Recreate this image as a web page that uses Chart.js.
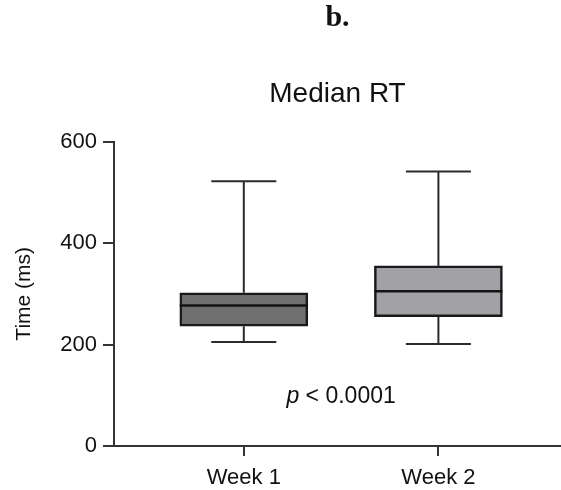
<!DOCTYPE html>
<html>
<head>
<meta charset="utf-8">
<script src="https://cdn.jsdelivr.net/npm/chart.js@4/dist/chart.umd.min.js"></script>
<style>
  html, body { margin: 0; padding: 0; background: #ffffff; }
  #wrap { width: 561px; height: 490px; position: relative; }
</style>
</head>
<body>
<div id="wrap"><canvas id="c"></canvas></div>
<script>
// ---- data ----
const categories = ['Week 1', 'Week 2'];
const whiskerMin = [205, 201];
const q1Values   = [236, 255];
const medians    = [277, 305];
const q3Values   = [302, 355];
const whiskerMax = [522, 541];
const yTicks     = [0, 200, 400, 600];
const pText      = '< 0.0001';

const boxFills = ['#6f6f6f', '#a2a2a6'];

const boxPlugin = {
  id: 'boxParts',
  afterDatasetsDraw(chart) {
    const { ctx, scales: { x, y } } = chart;
    ctx.save();
    categories.forEach((cat, i) => {
      const cx = x.getPixelForValue(i + 1);
      const capHalf = 32.5;
      const pMin = y.getPixelForValue(whiskerMin[i]);
      const pMax = y.getPixelForValue(whiskerMax[i]);
      const pQ1 = y.getPixelForValue(q1Values[i]);
      const pQ3 = y.getPixelForValue(q3Values[i]);
      const pMed = y.getPixelForValue(medians[i]);
      ctx.strokeStyle = '#2b2b2b';
      ctx.lineWidth = 2;
      ctx.beginPath();
      ctx.moveTo(cx, pQ3); ctx.lineTo(cx, pMax);
      ctx.moveTo(cx - capHalf, pMax); ctx.lineTo(cx + capHalf, pMax);
      ctx.moveTo(cx, pQ1); ctx.lineTo(cx, pMin);
      ctx.moveTo(cx - capHalf, pMin); ctx.lineTo(cx + capHalf, pMin);
      ctx.stroke();
      // median
      const half = 64;
      ctx.strokeStyle = '#141414';
      ctx.lineWidth = 2.5;
      ctx.beginPath();
      ctx.moveTo(cx - half, pMed); ctx.lineTo(cx + half, pMed);
      ctx.stroke();
    });
    // p-value annotation
    const px = x.getPixelForValue(1.5);
    const py = y.getPixelForValue(97);
    ctx.fillStyle = '#111111';
    ctx.textBaseline = 'middle';
    ctx.font = 'italic 23px "Liberation Sans", Arial, sans-serif';
    const pW = ctx.measureText('p ').width;
    ctx.font = '23px "Liberation Sans", Arial, sans-serif';
    const rW = ctx.measureText(pText).width;
    const startX = px - (pW + rW) / 2;
    ctx.textAlign = 'left';
    ctx.font = 'italic 23px "Liberation Sans", Arial, sans-serif';
    ctx.fillText('p ', startX, py);
    ctx.font = '23px "Liberation Sans", Arial, sans-serif';
    ctx.fillText(pText, startX + pW, py);
    ctx.restore();
  }
};

Chart.defaults.font.family = '"Liberation Sans", Arial, sans-serif';
Chart.defaults.color = '#111111';

new Chart(document.getElementById('c'), {
  type: 'bar',
  data: {
    datasets: [{
      data: categories.map((c, i) => ({ x: i + 1, y: [q1Values[i], q3Values[i]] })),
      backgroundColor: boxFills,
      borderColor: '#1a1a1a',
      borderWidth: 2.5,
      borderSkipped: false,
      barThickness: 128
    }]
  },
  options: {
    responsive: true,
    maintainAspectRatio: false,
    animation: false,
    layout: { padding: 0 },
    plugins: {
      legend: { display: false },
      tooltip: { enabled: false },
      title: {
        display: true,
        fullSize: false,
        text: 'b.',
        color: '#111111',
        font: { family: '"Liberation Serif", "Times New Roman", serif', size: 30, weight: 'bold' },
        padding: { top: 0, bottom: 41 }
      },
      subtitle: {
        display: true,
        fullSize: false,
        text: 'Median RT',
        color: '#111111',
        font: { size: 28 },
        padding: { top: 0, bottom: 31 }
      }
    },
    scales: {
      x: {
        type: 'linear',
        offset: false,
        min: 0.333,
        max: 2.63,
        afterBuildTicks: (s) => { s.ticks = categories.map((c, i) => ({ value: i + 1 })); },
        afterFit: (s) => { s.height = 44; },
        ticks: {
          callback: (v) => categories[v - 1] || '',
          font: { size: 22 },
          color: '#111111',
          padding: 9,
          maxRotation: 0,
          autoSkip: false
        },
        grid: { offset: false, drawOnChartArea: false, drawTicks: true, tickLength: 10, color: '#333333', lineWidth: 2 },
        border: { color: '#333333', width: 2 }
      },
      y: {
        min: 0,
        max: 600,
        afterBuildTicks: (s) => { s.ticks = yTicks.map(v => ({ value: v })); },
        afterFit: (s) => { s.width = 114; },
        ticks: { font: { size: 22 }, color: '#111111', padding: 6 },
        grid: { drawOnChartArea: false, drawTicks: true, tickLength: 11, color: '#333333', lineWidth: 2 },
        border: { color: '#333333', width: 2 },
        title: {
          display: true,
          text: 'Time (ms)',
          color: '#111111',
          font: { size: 21 },
          padding: { top: 12, bottom: 0 }
        }
      }
    }
  },
  plugins: [boxPlugin]
});
</script>
</body>
</html>
